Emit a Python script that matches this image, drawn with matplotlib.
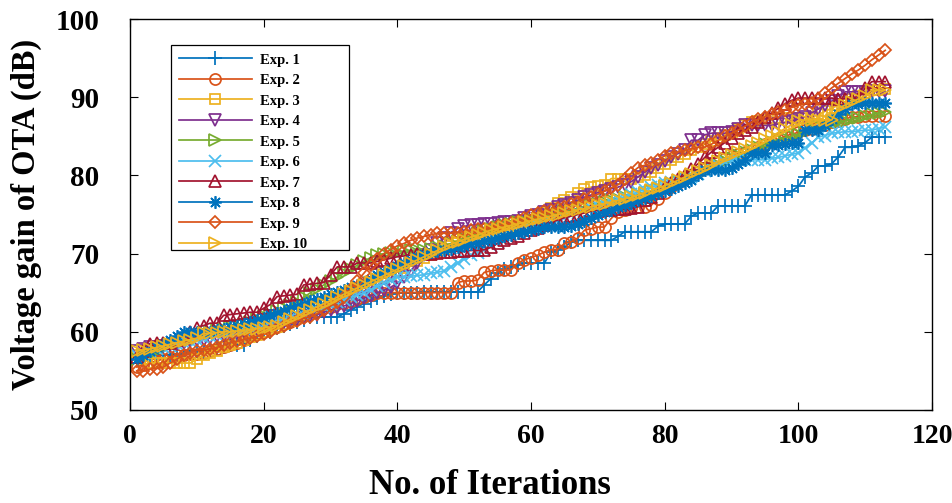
import matplotlib
matplotlib.use("Agg")
import matplotlib.pyplot as plt
from matplotlib.patches import Rectangle
import numpy as np

plt.rcParams["font.family"] = ["Liberation Serif", "DejaVu Serif"]
plt.rcParams["font.weight"] = "bold"

# iterations 1..113
iters = np.arange(1, 114)

exp1 = [56.5, 56.5, 57, 57, 57, 57, 57.2, 57.2, 57.5, 57.5,
        57.5, 57.5, 57.8, 58, 58.3, 58.3, 58.3, 59, 59.5, 60,
        60, 60.5, 60.8, 61, 61.2, 61.5, 61.9, 61.9, 61.9, 61.9,
        61.9, 62.3, 62.8, 63.2, 63.6, 64, 64.3, 64.6, 64.8, 65,
        65, 65, 65, 65.1, 65.1, 65.1, 65.1, 65.1, 65.1, 65.1,
        65.1, 65.1, 66, 66.8, 67.5, 68, 68.3, 68.5, 68.8, 68.8,
        68.8, 68.8, 70.2, 70.5, 70.8, 71.5, 71.7, 71.7, 71.7, 71.7,
        71.7, 71.7, 72.2, 72.8, 72.8, 72.8, 72.8, 72.8, 73.5, 73.8,
        73.8, 73.8, 73.8, 74.8, 75.2, 75.2, 75.2, 76.1, 76.1, 76.1,
        76.1, 76.1, 77.5, 77.5, 77.5, 77.5, 77.5, 77.5, 78, 78.6,
        79.8, 80.3, 81.2, 81.2, 81.5, 82.4, 83.6, 83.6, 83.8, 84.2,
        84.9, 84.9, 84.9]

exp2 = [55.5, 55.8, 56, 56.3, 56.5, 56.8, 57, 57, 57.2, 57.2,
        57.3, 57.5, 57.8, 58, 58.3, 58.6, 59, 59.4, 59.8, 60,
        60.3, 60.6, 61, 61.3, 61.6, 62, 62.3, 62.6, 63, 63.2,
        63.5, 63.7, 64, 64.2, 64.5, 64.7, 65, 65, 65, 65,
        65, 65, 65, 65, 65, 65, 65, 65, 66.3, 66.5,
        66.5, 66.6, 67.6, 67.8, 67.9, 67.9, 67.9, 68.8, 69.2, 69.5,
        69.8, 70.2, 70.5, 70.5, 71.3, 71.5, 72, 73, 73.2, 73.4,
        73.4, 74.5, 75.3, 75.6, 75.8, 76, 76, 76.2, 77, 77.8,
        78.5, 79, 79.5, 80, 80.5, 81, 81.5, 81.8, 82.2, 82.5,
        82.8, 83, 83.3, 83.6, 84, 84.3, 84.6, 85, 85.3, 85.5,
        85.8, 86, 86.2, 86.5, 86.8, 87, 87.2, 87.5, 87.5, 87.6,
        87.6, 87.6, 87.6]

exp3 = [57, 56.5, 56, 56, 56, 56, 56, 56, 56, 56.5,
        57, 57.3, 57.6, 58, 58.3, 58.6, 59, 59.3, 59.6, 60,
        60.3, 60.6, 61, 61.4, 61.8, 62.2, 62.6, 63, 63.4, 63.8,
        64.2, 64.6, 65, 65.4, 65.8, 66.2, 66.6, 67, 67.4, 67.8,
        68.2, 68.6, 69, 69.4, 69.8, 70.2, 70.6, 71, 71.3, 71.6,
        71.9, 72.2, 72.5, 72.8, 73, 73.2, 73.4, 73.6, 73.9, 74.2,
        74.6, 75.2, 75.8, 76.5, 76.9, 77.2, 77.8, 78.3, 78.5, 78.6,
        78.8, 79.6, 79.6, 79.6, 79.6, 79.8, 80, 80.5, 81, 81.5,
        82, 82.4, 82.8, 83.2, 83.6, 84, 84.4, 84.8, 85.2, 85.6,
        86, 86.4, 86.8, 87, 87.1, 87.2, 87.3, 87.3, 87.3, 87.4,
        87.4, 87.5, 87.8, 88.2, 88.6, 89, 89.4, 89.8, 90.2, 90.6,
        90.9, 90.9, 91]

exp4 = [57.5, 57.8, 58, 58, 58.2, 58.3, 58.5, 58.6, 58.8, 59,
        59, 59.2, 59.4, 59.5, 59.7, 59.9, 60, 60.2, 60.4, 60.6,
        60.8, 61, 61.2, 61.4, 61.6, 61.8, 62, 62.2, 62.5, 62.8,
        63, 63.3, 63.6, 64, 64.3, 64.6, 65, 65.3, 65.7, 66.2,
        67, 67.8, 68.8, 69.8, 70.5, 71.3, 72, 72.7, 73.2, 73.5,
        73.6, 73.7, 73.8, 73.8, 73.9, 74, 74, 74.2, 74.5, 74.8,
        75, 75.3, 75.6, 75.9, 76.2, 76.5, 76.8, 77.2, 77.5, 77.8,
        78, 78.3, 78.5, 78.8, 79.2, 79.8, 80.4, 81, 81.4, 81.9,
        82.4, 82.8, 83.2, 84.5, 84.5, 85.2, 85.4, 85.4, 85.4, 85.6,
        86, 86.4, 86.4, 86.4, 86.4, 86.4, 86.6, 86.8, 87, 87.2,
        87.5, 88, 88.5, 89, 89.5, 90.2, 90.7, 90.7, 90.7, 90.7,
        90.8, 90.8, 90.8]

exp5 = [56.5, 57, 57.3, 57.6, 58, 58.3, 58.6, 59, 59.3, 59.6,
        59.8, 60, 60.2, 60.4, 60.6, 60.8, 61, 61.3, 61.6, 62,
        62.3, 62.6, 63, 63.4, 63.8, 64.4, 65, 65.5, 66, 66.5,
        67, 67.5, 68, 68.5, 69, 69.5, 69.8, 70, 70.1, 70.2,
        70.3, 70.4, 70.5, 70.5, 70.6, 70.8, 71, 71.3, 71.6, 72,
        72.3, 72.6, 72.9, 73.2, 73.4, 73.6, 73.8, 74, 74.2, 74.4,
        74.6, 74.8, 75, 75.2, 75.4, 75.6, 75.8, 76, 76.2, 76.4,
        76.6, 76.8, 77, 77.2, 77.4, 77.6, 77.8, 78, 78.3, 78.6,
        78.9, 79.2, 79.5, 79.8, 80.2, 80.6, 81, 81.4, 81.8, 82.2,
        82.6, 83, 83.3, 83.6, 84, 84.3, 84.6, 84.8, 85, 85.3,
        85.6, 86, 86.3, 86.5, 86.7, 86.8, 87, 87.2, 87.4, 87.6,
        87.8, 88, 88.1]

exp6 = [57, 57.2, 57.5, 57.8, 58, 58.2, 58.4, 58.6, 58.8, 59,
        59.2, 59.4, 59.6, 59.8, 60, 60.2, 60.4, 60.6, 60.8, 61,
        61.2, 61.4, 61.6, 61.8, 62, 62.3, 62.6, 62.9, 63.2, 63.5,
        63.8, 64.1, 64.4, 64.7, 65, 65.4, 65.8, 66.2, 66.6, 67,
        67, 67.1, 67.2, 67.3, 67.5, 67.6, 67.8, 68.3, 68.8, 69.3,
        69.8, 70.1, 70.5, 71, 71.5, 72, 72.3, 72.6, 72.9, 73.2,
        73.5, 73.8, 74, 74.3, 74.6, 74.9, 75.2, 75.5, 75.8, 76.1,
        76.4, 76.7, 77, 77.3, 77.6, 77.9, 78.2, 78.5, 78.8, 79,
        79.2, 79.4, 79.6, 79.8, 80.2, 80.6, 81, 81.4, 81.7, 81.9,
        82, 82, 82, 82, 82, 82.2, 82.3, 82.5, 82.7, 82.9,
        83.5, 84.1, 84.9, 85.1, 85.4, 85.5, 85.6, 85.6, 85.7, 85.8,
        85.8, 86, 86.2]

exp7 = [56.8, 57.5, 58.5, 58.6, 58.6, 58.6, 59, 59.5, 60, 60.5,
        60.8, 61.1, 61.1, 62.1, 62.2, 62.3, 62.4, 62.5, 62.5, 63,
        63.5, 64.5, 64.6, 64.7, 64.8, 66, 66.1, 66.2, 66.3, 67.3,
        68.3, 68.3, 68.3, 68.8, 68.8, 68.8, 69, 69.2, 69.4, 69.6,
        69.7, 69.8, 69.9, 70, 70, 70.1, 70.2, 70.2, 70.3, 70.3,
        70.4, 70.4, 70.5, 70.8, 71.3, 71.7, 72, 72.3, 72.6, 73,
        73.3, 73.6, 74, 74.3, 74.6, 74.8, 75, 75.2, 75.4, 75.5,
        75.6, 75.6, 75.7, 75.7, 75.8, 76, 76.8, 77.2, 77.8, 78.5,
        79, 79.5, 80, 80.8, 81.5, 82.3, 83, 83.6, 84.2, 84.8,
        85.4, 85.8, 86.2, 86.8, 87.5, 88, 88.6, 89.2, 89.6, 89.9,
        89.9, 89.9, 89.9, 89.9, 89.9, 89.8, 89.8, 89.8, 89.8, 91.2,
        92, 92, 92]

exp8 = [56.5, 57, 57.5, 58, 58.5, 59, 59.5, 60, 60, 60,
        60, 60, 60.2, 60.4, 60.6, 60.8, 61, 61.2, 61.5, 61.8,
        62.1, 62.4, 62.7, 63, 63.3, 63.6, 63.9, 64.2, 64.5, 64.8,
        65.1, 65.4, 65.7, 66, 66.4, 66.8, 67.2, 67.6, 68, 68.4,
        68.8, 69.2, 69.6, 70, 70.2, 70.3, 70.4, 70.6, 70.8, 71,
        71.2, 71.4, 71.6, 71.8, 72, 72.2, 72.4, 72.6, 72.8, 73,
        73.2, 73.4, 73.4, 73.4, 73.4, 73.5, 73.8, 74.2, 74.6, 75,
        75.3, 75.6, 75.9, 76.2, 76.5, 76.8, 77.1, 77.4, 77.7, 78,
        78.3, 78.6, 79, 79.4, 80, 80.7, 80.7, 80.7, 80.7, 81,
        81.5, 82, 82.9, 82.9, 82.9, 83.9, 83.9, 84, 84.1, 84.1,
        85.8, 85.8, 85.8, 86.5, 87.2, 87.8, 88.5, 89.2, 89.2, 89.3,
        89.3, 89.3, 89.3]

exp9 = [55, 55, 55.2, 55.3, 55.5, 56, 56.5, 57, 57.3, 57.6,
        57.7, 57.8, 58, 58.3, 58.6, 58.8, 59, 59.2, 59.4, 59.7,
        60, 60.5, 60.8, 61.1, 61.4, 61.8, 61.9, 62.3, 62.8, 63.3,
        63.8, 64.5, 65.5, 66.5, 67.5, 68.5, 69.3, 70, 70.5, 71,
        71.3, 71.7, 72, 72.2, 72.4, 72.6, 72.6, 72.6, 72.7, 72.8,
        73, 73.1, 73.2, 73.3, 73.5, 73.7, 73.9, 74.2, 74.5, 75,
        75.2, 75.4, 75.6, 75.8, 76, 76.3, 76.6, 77, 77.3, 77.6,
        78, 78.4, 78.8, 79.5, 80.3, 81, 81.3, 81.6, 82, 82.5,
        82.9, 83, 83.2, 83.4, 83.6, 83.6, 84, 84.5, 85, 85.4,
        85.8, 86.3, 86.8, 87.2, 87.5, 87.8, 88.1, 88.4, 88.7, 89,
        89.2, 89.3, 89.8, 90.5, 91.2, 91.8, 92.4, 93, 93.5, 94.1,
        94.8, 95.4, 96]

exp10 = [57.5, 57.7, 57.8, 58, 58.2, 58.4, 58.6, 58.8, 59, 59.2,
         59.8, 59.8, 59.9, 60, 60, 60.1, 60.2, 60.3, 60.4, 60.5,
         60.6, 60.8, 61.2, 61.6, 62, 62.4, 62.8, 63.2, 63.6, 64,
         64.4, 64.8, 65.2, 65.6, 66, 66.4, 66.8, 67.2, 67.6, 68,
         68.4, 68.8, 69.2, 69.6, 70, 70.4, 70.8, 71.2, 71.5, 71.8,
         72.1, 72.4, 72.7, 73, 73.2, 73.4, 73.6, 73.8, 74, 74.2,
         74.4, 74.6, 74.8, 75, 75.2, 75.4, 75.6, 75.8, 76, 76.2,
         76.4, 76.6, 76.8, 77, 77.2, 77.5, 77.8, 78.1, 78.4, 78.7,
         79, 79.4, 79.8, 80.2, 80.6, 81, 81.4, 81.8, 82.2, 82.6,
         83, 83.4, 83.8, 84.2, 84.6, 85, 85.5, 86, 86.5, 87,
         87.1, 87.1, 87.1, 87.1, 87.1, 88.6, 89, 89.4, 89.8, 90.2,
         90.9, 90.9, 90.9]

series = [exp1, exp2, exp3, exp4, exp5, exp6, exp7, exp8, exp9, exp10]
labels = ["Exp. 1", "Exp. 2", "Exp. 3", "Exp. 4", "Exp. 5",
          "Exp. 6", "Exp. 7", "Exp. 8", "Exp. 9", "Exp. 10"]

# MATLAB default colour order, cycled
matlab = ["#0072BD", "#D95319", "#EDB120", "#7E2F8E", "#77AC30", "#4DBEEE", "#A2142F"]
markers = ["+", "o", "s", "v", ">", "x", "^", (8, 2, 0), "D", ">"]
msizes = [10, 8, 7.5, 8, 8, 8, 8, 9, 6, 8]

fig = plt.figure(figsize=(9.52, 5.03), dpi=100)
ax = fig.add_axes([0.1366, 0.185, 0.8424, 0.777])

for i, (y, lab) in enumerate(zip(series, labels)):
    ax.plot(iters, y, color=matlab[i % 7], marker=markers[i], markersize=msizes[i],
            markerfacecolor="none", markeredgewidth=1.25, linewidth=1.25, label=lab)

ax.set_xlim(0, 120)
ax.set_ylim(50, 100)
ax.set_xticks(np.arange(0, 121, 20))
ax.set_yticks(np.arange(50, 101, 10))
ax.tick_params(direction="in", top=True, right=True, length=6, width=0.8)
ax.tick_params(axis="x", pad=10, labelsize=20)
ax.tick_params(axis="y", pad=22, labelsize=21)
for lbl in ax.get_xticklabels() + ax.get_yticklabels():
    lbl.set_fontweight("bold")
for sp in ax.spines.values():
    sp.set_linewidth(1.0)

ax.set_xlabel("No. of Iterations", fontsize=25, fontweight="bold")
ax.set_ylabel("Voltage gain of OTA (dB)", fontsize=23.5, fontweight="bold")
ax.xaxis.set_label_coords(0.449, -0.15)
ax.yaxis.set_label_coords(-0.11, 0.5)

# legend box drawn separately (MATLAB leaves a wide right margin)
ax.add_patch(Rectangle((0.0511, 0.409), 0.2222, 0.5245, transform=ax.transAxes,
                       facecolor="white", edgecolor="black", linewidth=0.9, zorder=4))
leg = ax.legend(loc="upper left", bbox_to_anchor=(0.051, 0.933), borderaxespad=0,
                handlelength=5, labelspacing=0.5, numpoints=1, frameon=False,
                borderpad=0.55, handletextpad=0.55,
                prop={"weight": "bold", "size": 10.5})
leg.set_zorder(5)

fig.savefig("out.png", dpi=100)
